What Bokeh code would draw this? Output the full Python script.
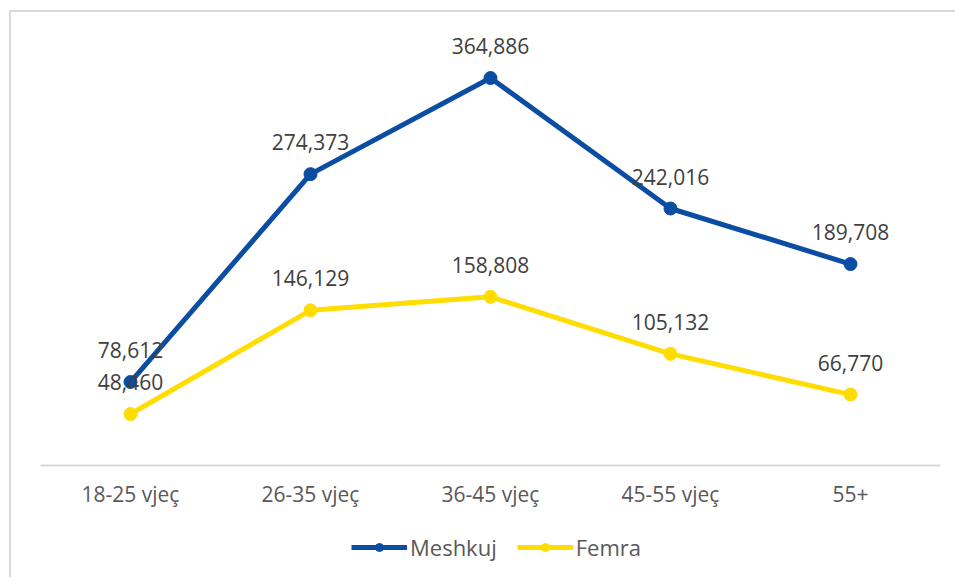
from bokeh.plotting import figure
from bokeh.models import Range1d, ColumnDataSource, Legend, LegendItem
from bokeh.layouts import column
from bokeh.core.properties import value
from bokeh.embed import file_html
from bokeh.resources import INLINE

categories = ["18-25 vjeç", "26-35 vjeç", "36-45 vjeç", "45-55 vjeç", "55+"]
meshkuj = [78612, 274373, 364886, 242016, 189708]
femra = [48460, 146129, 158808, 105132, 66770]

BLUE = "#0B4DA2"
YELLOW = "#FFDD00"
FONT = "Open Sans"

p = figure(x_range=categories, y_range=Range1d(0, 420000),
           width=944, height=515, output_backend="svg", toolbar_location=None,
           min_border_left=29, min_border_right=15, min_border_top=7, min_border_bottom=62)
p.outline_line_color = None
p.grid.visible = False
p.yaxis.visible = False
p.xaxis.axis_line_color = "#d9d9d9"
p.xaxis.axis_line_width = 2
p.xaxis.major_tick_line_color = None
p.xaxis.minor_tick_line_color = None
p.xaxis.major_label_text_font = FONT
p.xaxis.major_label_text_font_size = "21px"
p.xaxis.major_label_text_color = "#595959"
p.xaxis.major_label_standoff = 8

src_m = ColumnDataSource(dict(x=categories, y=meshkuj, t=[f"{v:,}" for v in meshkuj]))
src_f = ColumnDataSource(dict(x=categories, y=femra, t=[f"{v:,}" for v in femra]))

p.line("x", "y", source=src_m, color=BLUE, line_width=5)
p.scatter("x", "y", source=src_m, size=13, color=BLUE)
p.line("x", "y", source=src_f, color=YELLOW, line_width=5)
p.scatter("x", "y", source=src_f, size=13, color=YELLOW)

for src in (src_m, src_f):
    p.text("x", "y", text="t", source=src, y_offset=-32, text_align="center",
           text_baseline="middle", text_font=value(FONT), text_font_size="21px",
           text_color="#404040")

# legend strip below the chart (series renderers kept out of view, only used for the key)
lg = figure(x_range=p.x_range, y_range=Range1d(-2, -1), width=944, height=50,
            output_backend="svg", toolbar_location=None,
            x_axis_location=None, y_axis_location=None,
            min_border_left=0, min_border_right=0, min_border_top=0, min_border_bottom=0)
lg.outline_line_color = None
lg.grid.visible = False
lm = lg.line("x", "y", source=src_m, color=BLUE, line_width=5)
cm = lg.scatter("x", "y", source=src_m, size=13, color=BLUE)
lf = lg.line("x", "y", source=src_f, color=YELLOW, line_width=5)
cf = lg.scatter("x", "y", source=src_f, size=13, color=YELLOW)

legend = Legend(items=[LegendItem(label="Meshkuj", renderers=[lm, cm]),
                       LegendItem(label="Femra", renderers=[lf, cf])],
                orientation="horizontal", location=(311, 15),
                glyph_width=56, glyph_height=20, label_height=20, label_standoff=3,
                spacing=20, padding=0, margin=0, border_line_color=None,
                background_fill_alpha=0, label_text_font=FONT,
                label_text_font_size="22px", label_text_color="#595959")
lg.add_layout(legend, "center")

layout = column(p, lg, spacing=0)
layout.styles = {"border-left": "2px solid #d9d9d9", "border-top": "2px solid #d9d9d9",
                 "margin-left": "9px", "margin-top": "10px"}

open("out.html", "w").write(file_html(layout, INLINE))
